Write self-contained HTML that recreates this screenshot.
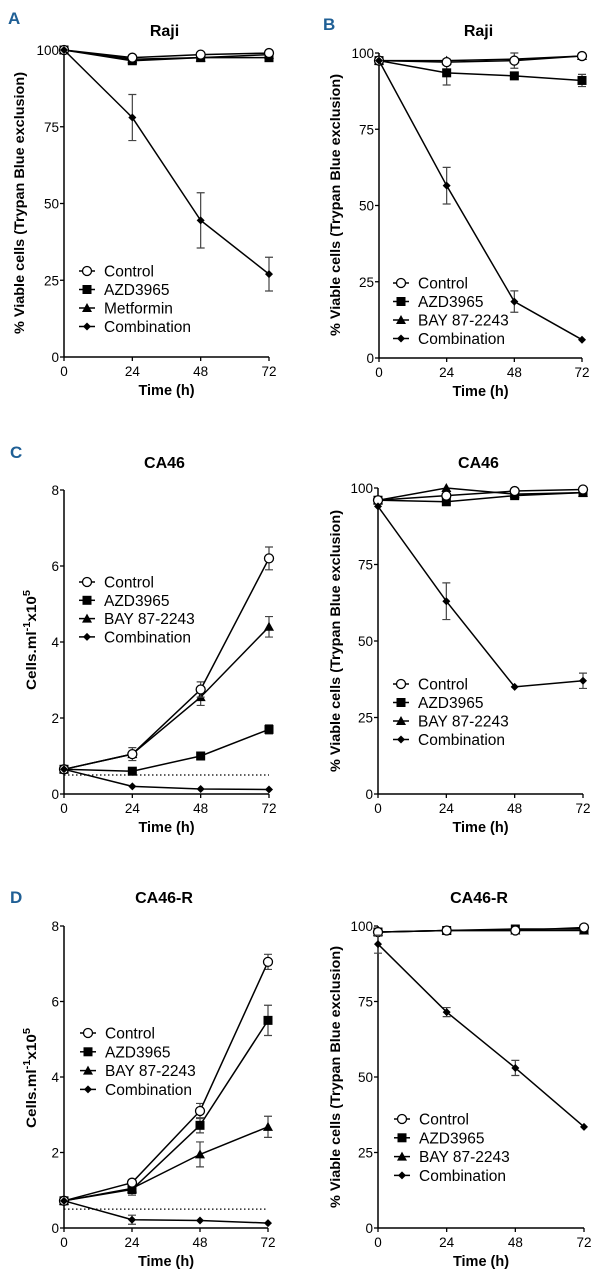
<!DOCTYPE html>
<html><head><meta charset="utf-8">
<style>
html,body{margin:0;padding:0;background:#fff;}
svg{display:block;font-family:"Liberation Sans",Arial,sans-serif;}
</style></head>
<body>
<svg id="fig" width="609" height="1280" viewBox="0 0 609 1280" xmlns="http://www.w3.org/2000/svg"></svg>
<script>
const times = [0, 24, 48, 72];
// Panel A (Raji, metformin)
const aControl = [100, 97.5, 98.5, 99];
const aAZD = [100, 96.5, 97.5, 97.5];
const aMet = [100, 97, 97.5, 98.5];
const aComb = [100, 78, 44.5, 27];
const aCombErr = [0, 7.5, 9, 5.5];
// Panel B (Raji, BAY)
const bControl = [97.5, 97, 97.5, 99];
const bAZD = [97.5, 93.5, 92.5, 91];
const bBAY = [97.5, 97.5, 98, 99];
const bComb = [97.5, 56.5, 18.5, 6];
const bAZDErr = [0, 4, 0, 2];
const bCombErr = [0, 6, 3.5, 0];
const bCtrlErr = [0, 1, 2.5, 0];
// Panel C left (CA46 counts)
const cCountControl = [0.65, 1.05, 2.75, 6.2];
const cCountAZD = [0.65, 0.6, 1.0, 1.7];
const cCountBAY = [0.65, 1.05, 2.55, 4.4];
const cCountComb = [0.65, 0.2, 0.13, 0.12];
const cCountCtrlErr = [0, 0.17, 0.2, 0.3];
const cCountBAYErr = [0, 0, 0.22, 0.27];
const cCountAZDErr = [0, 0, 0, 0.12];
// Panel C right (CA46 viability)
const cViaControl = [96, 97.5, 99, 99.5];
const cViaAZD = [96, 95.5, 97.5, 98.5];
const cViaBAY = [96, 100, 98, 98.5];
const cViaComb = [94, 63, 35, 37];
const cViaCombErr = [0, 6, 0, 2.5];
// Panel D left (CA46-R counts)
const dCountControl = [0.72, 1.2, 3.1, 7.05];
const dCountAZD = [0.72, 1.02, 2.72, 5.5];
const dCountBAY = [0.72, 1.05, 1.95, 2.68];
const dCountComb = [0.72, 0.22, 0.2, 0.13];
const dCountCtrlErr = [0, 0, 0.2, 0.2];
const dCountAZDErr = [0, 0.15, 0.2, 0.4];
const dCountBAYErr = [0, 0, 0.33, 0.28];
const dCountCombErr = [0, 0.12, 0, 0];
// Panel D right (CA46-R viability)
const dViaControl = [98, 98.5, 98.5, 99.5];
const dViaAZD = [98, 98.5, 99, 99];
const dViaBAY = [98, 98.5, 98.5, 98.5];
const dViaComb = [94, 71.5, 53, 33.5];
const dViaCombErr = [3, 1.5, 2.5, 0];
const viaTicks = [0, 25, 50, 75, 100];
const countTicks = [0, 2, 4, 6, 8];
const dottedLevel = 0.5;

const NS = "http://www.w3.org/2000/svg";
const svg = document.getElementById('fig');
function mk(tag, attrs, parent){
  const e = document.createElementNS(NS, tag);
  for (const k in attrs) e.setAttribute(k, attrs[k]);
  (parent||svg).appendChild(e);
  return e;
}
function marker(g, type, cx, cy){
  let m;
  if (type==='circle') m = mk('circle',{cx:cx,cy:cy,r:4.5,fill:'#fff',stroke:'#000','stroke-width':1.3},g);
  else if (type==='square') m = mk('rect',{x:cx-4.5,y:cy-4.5,width:9,height:9,fill:'#000'},g);
  else if (type==='triangle') m = mk('polygon',{points:`${cx},${cy-5} ${cx-5},${cy+4} ${cx+5},${cy+4}`,fill:'#000'},g);
  else m = mk('polygon',{points:`${cx},${cy-4} ${cx+4},${cy} ${cx},${cy+4} ${cx-4},${cy}`,fill:'#000'},g);
  return m;
}
function txt(g, x, y, s, attrs){
  const t = mk('text', Object.assign({x:x,y:y,fill:'#000'}, attrs||{}), g);
  t.textContent = s;
  return t;
}
function panel(p){
  const g = mk('g',{});
  
  
  const xs = t => p.x0 + (p.x1-p.x0)*t/72;
  const ys = v => p.y0 - (p.y0-p.yTop)*v/p.max;
  // title
  const ti = txt(g, (p.x0+p.x1)/2 - 2, p.titleY, p.title, {'font-size':16,'font-weight':'bold','text-anchor':'middle'});
  
  
  if (p.letter){
    const l = txt(g, p.letterX, p.letterY, p.letter, {'font-size':17,'font-weight':'bold',fill:'#1f5f95'});
    
    
  }
  // axes
  const ax = mk('g',{},g);
  
  
  mk('line',{x1:p.x0,y1:p.yTop,x2:p.x0,y2:p.y0,stroke:'#000','stroke-width':1.5},ax);
  mk('line',{x1:p.x0,y1:p.y0,x2:p.x1,y2:p.y0,stroke:'#000','stroke-width':1.5},ax);
  p.ticks.forEach(v=>{
    const y = ys(v);
    mk('line',{x1:p.x0-4,y1:y,x2:p.x0,y2:y,stroke:'#000','stroke-width':1.3},ax);
    const t = txt(ax, p.x0-5, y+5, String(v), {'font-size':13.5,'text-anchor':'end'});
    
    
  });
  times.forEach(tt=>{
    const x = xs(tt);
    mk('line',{x1:x,y1:p.y0,x2:x,y2:p.y0+4,stroke:'#000','stroke-width':1.3},ax);
    const t = txt(ax, x, p.y0+19, String(tt), {'font-size':13.5,'text-anchor':'middle'});
    
    
  });
  const xt = txt(ax, (p.x0+p.x1)/2, p.y0+38, 'Time (h)', {'font-size':14.5,'font-weight':'bold','text-anchor':'middle'});
  
  
  const ycx = p.ytX, ycy = p.ytY;
  const yt = mk('text',{x:ycx,y:ycy,'font-size':14,'font-weight':'bold','text-anchor':'middle',transform:`rotate(-90 ${ycx} ${ycy})`,textLength:p.ytLen,lengthAdjust:'spacingAndGlyphs'},ax);
  if (p.count){
    yt.appendChild(document.createTextNode('Cells.ml'));
    const s1 = document.createElementNS(NS,'tspan'); s1.setAttribute('dy','-6'); s1.setAttribute('font-size','10'); s1.textContent='-1'; yt.appendChild(s1);
    const s2 = document.createElementNS(NS,'tspan'); s2.setAttribute('dy','6'); s2.textContent='x10'; yt.appendChild(s2);
    const s3 = document.createElementNS(NS,'tspan'); s3.setAttribute('dy','-6'); s3.setAttribute('font-size','10'); s3.textContent='5'; yt.appendChild(s3);
  } else yt.textContent = '% Viable cells (Trypan Blue exclusion)';
  
  
  if (p.dotted){
    const dl = mk('line',{x1:p.x0,y1:ys(dottedLevel),x2:p.x1,y2:ys(dottedLevel),stroke:'#000','stroke-width':1.2,'stroke-dasharray':'1.5,2.5'},g);
    
    
  }
  // series
  p.series.forEach(s=>{
    const sg = mk('g',{},g);
    
    
    if (s.err) s.vals.forEach((v,i)=>{
      const e = s.err[i]; if (!e) return;
      const x = xs(times[i]);
      mk('path',{d:`M${x},${ys(v+e)}V${ys(v-e)}M${x-4},${ys(v+e)}H${x+4}M${x-4},${ys(v-e)}H${x+4}`,stroke:'#444','stroke-width':1.2,fill:'none'},sg);
    });
    mk('polyline',{points:s.vals.map((v,i)=>xs(times[i])+','+ys(v)).join(' '),fill:'none',stroke:'#000','stroke-width':1.5},sg);
    s.vals.forEach((v,i)=>{
      const m = marker(sg, s.type, xs(times[i]), ys(v));
      
      
    });
  });
  // legend
  const lg = mk('g',{},g);
  
  
  const order = p.series.slice().sort((a,b)=>a.ord-b.ord);
  order.forEach((s,i)=>{
    const y = p.legY + i*p.legDy;
    const eg = mk('g',{},lg);
    
    
    mk('line',{x1:p.legX-8,y1:y,x2:p.legX+8,y2:y,stroke:'#000','stroke-width':1.5},eg);
    marker(eg, s.type, p.legX, y);
    txt(eg, p.legX+17, y+5.5, s.label, {'font-size':15.5});
  });
}
const mkS = (label,type,vals,err,ord)=>({label,type,vals,err,ord});
panel({name:'panel-a-raji', title:'Raji', titleY:36, letter:'A', letterX:8, letterY:24,
  x0:64,x1:269,yTop:50,y0:357,max:100,ticks:viaTicks, ytX:24, ytY:203, ytLen:262,
  series:[mkS('Metformin','triangle',aMet,null,2),mkS('AZD3965','square',aAZD,null,1),mkS('Control','circle',aControl,null,0),mkS('Combination','diamond',aComb,aCombErr,3)],
  legX:87,legY:271,legDy:18.5});
panel({name:'panel-b-raji', title:'Raji', titleY:36, letter:'B', letterX:323, letterY:30,
  x0:379,x1:582,yTop:53,y0:358,max:100,ticks:viaTicks, ytX:340, ytY:205, ytLen:262,
  series:[mkS('BAY 87-2243','triangle',bBAY,null,2),mkS('AZD3965','square',bAZD,bAZDErr,1),mkS('Control','circle',bControl,bCtrlErr,0),mkS('Combination','diamond',bComb,bCombErr,3)],
  legX:401,legY:283,legDy:18.5});
panel({name:'panel-c-ca46-counts', title:'CA46', titleY:468, letter:'C', letterX:10, letterY:458,
  x0:64,x1:269,yTop:490,y0:794,max:8,ticks:countTicks, ytX:36, ytY:640, ytLen:100, count:true, dotted:true,
  series:[mkS('BAY 87-2243','triangle',cCountBAY,cCountBAYErr,2),mkS('AZD3965','square',cCountAZD,cCountAZDErr,1),mkS('Control','circle',cCountControl,cCountCtrlErr,0),mkS('Combination','diamond',cCountComb,null,3)],
  legX:87,legY:582,legDy:18.3});
panel({name:'panel-c-ca46-viability', title:'CA46', titleY:468,
  x0:378,x1:583,yTop:488,y0:794,max:100,ticks:viaTicks, ytX:340, ytY:641, ytLen:262,
  series:[mkS('BAY 87-2243','triangle',cViaBAY,null,2),mkS('AZD3965','square',cViaAZD,null,1),mkS('Control','circle',cViaControl,null,0),mkS('Combination','diamond',cViaComb,cViaCombErr,3)],
  legX:401,legY:684,legDy:18.5});
panel({name:'panel-d-ca46r-counts', title:'CA46-R', titleY:903, letter:'D', letterX:10, letterY:903,
  x0:64,x1:268,yTop:926,y0:1228,max:8,ticks:countTicks, ytX:36, ytY:1078, ytLen:100, count:true, dotted:true,
  series:[mkS('BAY 87-2243','triangle',dCountBAY,dCountBAYErr,2),mkS('AZD3965','square',dCountAZD,dCountAZDErr,1),mkS('Control','circle',dCountControl,dCountCtrlErr,0),mkS('Combination','diamond',dCountComb,dCountCombErr,3)],
  legX:88,legY:1033,legDy:18.8});
panel({name:'panel-d-ca46r-viability', title:'CA46-R', titleY:903,
  x0:378,x1:584,yTop:926,y0:1228,max:100,ticks:viaTicks, ytX:340, ytY:1077, ytLen:262,
  series:[mkS('BAY 87-2243','triangle',dViaBAY,null,2),mkS('AZD3965','square',dViaAZD,null,1),mkS('Control','circle',dViaControl,null,0),mkS('Combination','diamond',dViaComb,dViaCombErr,3)],
  legX:402,legY:1119,legDy:18.8});
</script>
</body></html>
